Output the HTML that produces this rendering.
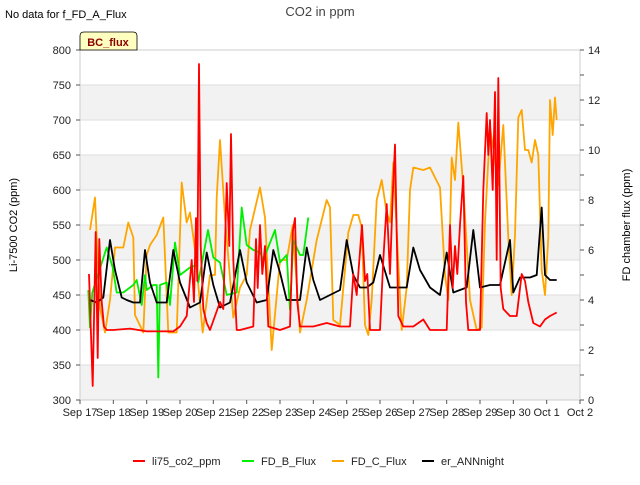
<!DOCTYPE html>
<html><head><meta charset="utf-8"><style>
body{margin:0;background:#fff;}
svg text{font-family:"Liberation Sans",sans-serif;}
</style></head><body>
<svg id="chart" width="640" height="480" xmlns="http://www.w3.org/2000/svg">
<rect x="0" y="0" width="640" height="480" fill="#fff"/>
<g id="bands"></g><g id="grid"></g>
<rect x="80" y="50" width="500" height="350" fill="none" stroke="#ccc"/>
<g id="axes"></g><g id="series"></g>
<text x="5" y="18" font-size="11" fill="#000">No data for f_FD_A_Flux</text>
<text x="320" y="16" font-size="13" fill="#444" text-anchor="middle">CO2 in ppm</text>
<g><path d="M80,50 L80,36 Q80,32 84,32 L133,32 Q137,32 137,36 L137,50 Z" fill="#ffffc0" stroke="#000" stroke-width="0.8"/><text x="108" y="46" font-size="11" font-weight="bold" fill="#8b0000" text-anchor="middle">BC_flux</text></g>
<text transform="translate(17,225) rotate(-90)" font-size="11" text-anchor="middle">Li-7500 CO2 (ppm)</text>
<text transform="translate(630,225) rotate(-90)" font-size="11" text-anchor="middle">FD chamber flux (ppm)</text>
<g id="legend"></g>
</svg>
<script>
const xTickLabels=["Sep 17","Sep 18","Sep 19","Sep 20","Sep 21","Sep 22","Sep 23","Sep 24","Sep 25","Sep 26","Sep 27","Sep 28","Sep 29","Sep 30","Oct 1","Oct 2"];
const leftTicks=[300,350,400,450,500,550,600,650,700,750,800];
const rightTicks=[0,2,4,6,8,10,12,14];
const redT=[0.27,0.38,0.47,0.53,0.58,0.65,0.72,0.8,1,1.5,2,2.4,2.8,3.0,3.2,3.35,3.42,3.48,3.52,3.57,3.62,3.7,3.8,3.9,4.05,4.2,4.3,4.4,4.48,4.53,4.6,4.7,4.8,5.2,5.28,5.33,5.4,5.47,5.55,5.65,6.0,6.3,6.38,6.45,6.52,6.6,7.0,7.4,7.8,8.1,8.2,8.3,8.46,8.55,8.62,8.7,9.0,9.1,9.2,9.3,9.38,9.45,9.55,9.7,10.0,10.3,10.5,11.0,11.1,11.18,11.25,11.32,11.4,11.5,11.58,11.65,11.7,12.0,12.1,12.2,12.25,12.3,12.38,12.45,12.5,12.55,12.62,12.7,12.9,13.1,13.25,13.35,13.45,13.6,13.8,13.95,14.1,14.3];
const redV=[480,320,540,360,530,440,405,400,400,402,398,398,398,405,420,500,440,560,470,780,520,430,410,400,420,440,430,610,520,680,500,400,400,405,530,460,550,480,520,405,400,405,540,560,440,405,405,410,405,405,480,450,550,470,480,400,400,500,580,480,590,665,420,405,405,415,400,400,550,460,520,480,550,620,440,400,400,400,600,710,650,700,600,740,500,760,460,430,420,420,480,470,440,410,405,415,420,425];
const greenT=[0.25,0.3,0.37,0.8,0.98,1.1,1.3,1.6,1.7,1.85,1.95,2.0,2.2,2.3,2.35,2.4,2.6,2.7,2.85,3.0,3.3,3.5,3.55,3.84,4.0,4.2,4.4,4.7,4.85,5.0,5.2,5.4,5.5,5.85,6.0,6.2,6.3,6.4,6.6,6.7,6.85];
const greenV=[4.4,2.9,4.3,6.1,5.3,4.3,4.3,4.6,4.8,3.8,5.0,4.4,4.6,4.6,0.9,4.6,4.7,3.8,6.3,5.0,5.3,5.4,4.7,6.8,5.7,5.5,4.2,4.3,7.7,6.2,6.0,5.9,5.6,6.8,5.5,5.8,3.6,6.4,5.8,5.8,7.3];
const orangeT=[0.3,0.45,0.5,0.6,0.75,0.9,1.05,1.3,1.45,1.6,1.65,1.9,2.0,2.1,2.3,2.5,2.65,2.9,3.05,3.2,3.3,3.45,3.68,3.9,4.05,4.1,4.2,4.35,4.6,4.8,5.0,5.1,5.4,5.55,5.75,6.0,6.2,6.38,6.6,6.8,7.1,7.4,7.5,7.6,7.8,8.05,8.2,8.35,8.45,8.55,8.65,8.75,8.9,9.05,9.2,9.3,9.4,9.55,9.65,9.8,9.9,10.0,10.3,10.5,10.8,10.95,11.05,11.15,11.25,11.35,11.5,11.7,11.9,12.05,12.15,12.3,12.45,12.55,12.7,12.85,12.95,13.05,13.15,13.25,13.35,13.45,13.55,13.65,13.75,13.85,13.95,14.05,14.1,14.18,14.25,14.3];
const orangeV=[6.8,8.1,6.5,3.7,2.7,4.0,6.1,6.1,7.1,6.5,3.4,2.7,5.8,6.2,6.6,7.3,2.7,2.7,8.7,7.1,7.5,6.0,2.7,5.0,5.0,8.1,10.4,7.3,3.3,4.5,5.0,6.8,8.5,7.3,2.0,5.6,5.6,7.0,2.7,4.0,6.4,8.0,7.7,3.2,3.0,6.7,7.4,7.4,6.9,3.0,2.6,4.0,8.0,8.8,7.5,7.1,9.5,5.5,2.8,4.5,8.4,9.3,9.2,9.3,8.5,5.0,4.0,9.7,8.8,11.1,8.5,4.0,2.8,2.9,7.1,10.9,9.6,8.6,11.0,6.5,4.2,6.6,11.3,11.6,10.0,10.0,9.5,10.4,9.8,5.2,4.2,6.5,12.0,10.6,12.1,11.2];
const blackT=[0.3,0.5,0.7,0.9,1.05,1.25,1.4,1.6,1.8,1.95,2.1,2.3,2.5,2.6,2.8,3.0,3.3,3.6,3.8,4.0,4.2,4.5,4.8,5.0,5.3,5.6,5.8,6.0,6.2,6.6,6.8,7.0,7.2,7.5,7.8,8.0,8.2,8.4,8.6,8.8,9.0,9.3,9.6,9.8,10.0,10.2,10.5,10.8,11.0,11.2,11.6,11.8,12.0,12.3,12.6,12.9,13.0,13.2,13.5,13.7,13.85,13.95,14.1,14.3];
const blackV=[4.0,3.9,4.1,6.4,5.2,4.1,4.0,3.9,3.9,6.0,4.7,3.9,3.9,3.9,6.0,4.7,3.7,3.9,5.9,4.6,3.7,3.9,6.0,4.7,3.9,4.0,6.0,5.1,4.0,4.0,6.1,4.8,4.0,4.2,4.4,6.4,5.0,4.5,4.5,4.7,5.8,4.5,4.5,4.5,6.1,5.2,4.5,4.2,5.9,4.3,4.5,6.8,4.5,4.6,4.6,6.4,4.3,4.9,4.9,5.0,7.7,5.0,4.8,4.8];

const X0=80,X1=580,Y0=400,Y1=50;
const xS=d=>X0+(X1-X0)*d/15;
const yL=v=>Y0-(v-300)*(Y0-Y1)/500;
const yR=v=>Y0-v*(Y0-Y1)/14;
const NS="http://www.w3.org/2000/svg";
function mk(tag,attrs,parent){const e=document.createElementNS(NS,tag);for(const k in attrs)e.setAttribute(k,attrs[k]);parent.appendChild(e);return e;}
const bands=document.getElementById('bands'),grid=document.getElementById('grid'),axes=document.getElementById('axes'),series=document.getElementById('series'),legend=document.getElementById('legend');
for(let i=0;i<leftTicks.length-1;i+=2){
  const b=mk('rect',{x:X0,y:yL(leftTicks[i+1]),width:X1-X0,height:yL(leftTicks[i])-yL(leftTicks[i+1]),fill:'#f2f2f2'},bands);
  
  
}
leftTicks.forEach(v=>{
  const l=mk('line',{x1:X0,x2:X1,y1:yL(v),y2:yL(v),stroke:'#ddd'},grid);
  
  
  mk('line',{x1:X0-4,x2:X0,y1:yL(v),y2:yL(v),stroke:'#555'},axes);
  const t=mk('text',{x:X0-9,y:yL(v)+4,'font-size':11,'text-anchor':'end',fill:'#222'},axes);
  t.textContent=v;
  
  
});
for(let v=0;v<=14;v++){mk('line',{x1:X1,x2:X1+4,y1:yR(v),y2:yR(v),stroke:'#555'},axes);}
rightTicks.forEach(v=>{
  const t=mk('text',{x:X1+8,y:yR(v)+4,'font-size':11,fill:'#222'},axes);
  t.textContent=v;
  
  
});
xTickLabels.forEach((s,i)=>{
  mk('line',{x1:xS(i),x2:xS(i),y1:Y0,y2:Y0+4,stroke:'#555'},axes);
  const t=mk('text',{x:xS(i),y:Y0+16,'font-size':11,'text-anchor':'middle',fill:'#222'},axes);
  t.textContent=s;
  
  
});
function line(T,V,yf,color,name){
  const d=T.map((t,i)=>(i?'L':'M')+xS(t).toFixed(1)+','+yf(V[i]).toFixed(1)).join('');
  const p=mk('path',{d:d,fill:'none',stroke:color,'stroke-width':1.8,'stroke-linejoin':'round'},series);
  
  
}
line(orangeT,orangeV,yR,'#ffa500','fd-c-flux-line');
line(greenT,greenV,yR,'#00ee00','fd-b-flux-line');
line(blackT,blackV,yR,'#000','er-annnight-line');
line(redT,redV,yL,'#ff0000','li75-co2-line');
const leg=[['li75_co2_ppm','#ff0000',133],['FD_B_Flux','#00ee00',242],['FD_C_Flux','#ffa500',332],['er_ANNnight','#000',422]];
leg.forEach(([n,c,x])=>{
  const g=mk('g',{},legend);
  
  
  mk('line',{x1:x,x2:x+12,y1:461,y2:461,stroke:c,'stroke-width':2},g);
  const t=mk('text',{x:x+19,y:465,'font-size':11,fill:'#222'},g);
  t.textContent=n;
});
</script>
</body></html>
